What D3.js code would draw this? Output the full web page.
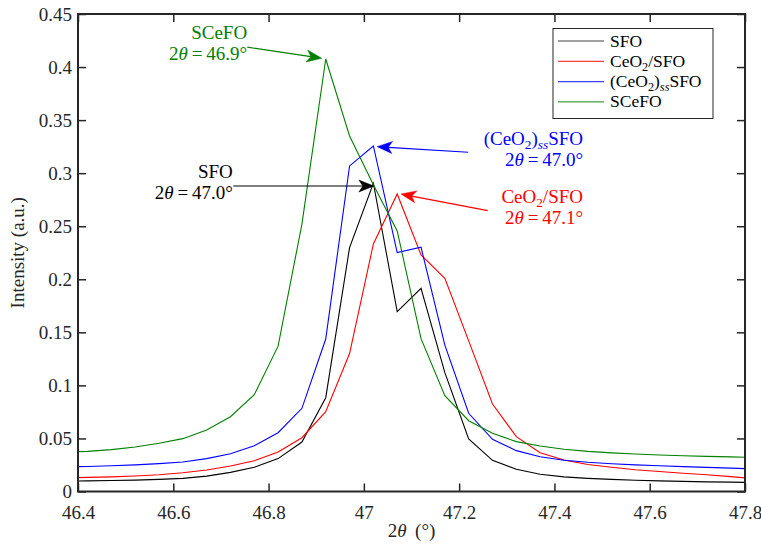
<!DOCTYPE html>
<html><head><meta charset="utf-8">
<script src="https://cdn.jsdelivr.net/npm/d3@7"></script>
<style>body{margin:0;background:#fff}svg{display:block}text{font-family:"Liberation Serif","Times New Roman","DejaVu Serif",serif}</style>
</head><body><svg id="c" width="761" height="552"></svg>
<script>
const theta = [46.37,46.42,46.47,46.52,46.57,46.62,46.67,46.72,46.77,46.82,46.87,46.92,46.97,47.02,47.07,47.12,47.17,47.22,47.27,47.32,47.37,47.42,47.47,47.52,47.57,47.62,47.67,47.72,47.77,47.82];
const sfo   = [0.0097,0.0100,0.0103,0.0107,0.0114,0.0124,0.0145,0.0180,0.0228,0.0310,0.0466,0.0884,0.2298,0.2905,0.1695,0.1915,0.1120,0.0495,0.0294,0.0209,0.0162,0.0138,0.0124,0.0114,0.0106,0.0100,0.0095,0.0091,0.0088,0.0085];
const ceo2  = [0.0128,0.0133,0.0138,0.0146,0.0158,0.0177,0.0203,0.0240,0.0290,0.0372,0.0507,0.0752,0.1300,0.2333,0.2804,0.2229,0.2009,0.1420,0.0825,0.0517,0.0366,0.0297,0.0255,0.0228,0.0205,0.0188,0.0172,0.0158,0.0140,0.0120];
const ceoss = [0.0232,0.0236,0.0242,0.0251,0.0263,0.0278,0.0310,0.0356,0.0432,0.0554,0.0784,0.1437,0.3068,0.3256,0.2251,0.2302,0.1380,0.0737,0.0492,0.0385,0.0328,0.0294,0.0275,0.0262,0.0251,0.0242,0.0234,0.0227,0.0220,0.0213];
const scefo = [0.0368,0.0378,0.0395,0.0420,0.0454,0.0498,0.0580,0.0705,0.0912,0.1370,0.2520,0.4076,0.3350,0.2890,0.2455,0.1440,0.0903,0.0667,0.0548,0.0470,0.0429,0.0398,0.0378,0.0364,0.0353,0.0344,0.0337,0.0331,0.0326,0.0321];
const xTicks = [46.4,46.6,46.8,47,47.2,47.4,47.6,47.8];
const yTicks = [0,0.05,0.1,0.15,0.2,0.25,0.3,0.35,0.4,0.45];
const seriesNames = ["SFO","CeO2/SFO","(CeO2)ssSFO","SCeFO"];
const seriesColors = ["#000000","#ff0000","#0000ff","#008000"];
const seriesData = [sfo, ceo2, ceoss, scefo];
// annotations in data units
const annLabels = ["SFO","CeO2/SFO","(CeO2)ssSFO","SCeFO"];
const annAngles = ["47.0","47.1","47.0","46.9"];
const annText = [[46.725,0.2955],[47.46,0.2716],[47.46,0.3266],[46.755,0.4265]];
const annTail = [[46.726,0.2879],[47.260,0.2647],[47.219,0.3197],[46.7554,0.4187]];
const annTip  = [[47.021,0.2879],[47.078,0.2804],[47.028,0.3250],[46.9116,0.4083]];

const svg = d3.select("#c");
const L=78,R=745,T=14,B=491.5;
const x = d3.scaleLinear().domain([46.4,47.8]).range([L,R]);
const y = d3.scaleLinear().domain([0,0.45]).range([B,T]);
const axisCol="#262626";
const FF="'Liberation Serif','Times New Roman','DejaVu Serif',serif";
const FS=19;

svg.append("clipPath").attr("id","clip").append("rect").attr("x",L).attr("y",T).attr("width",R-L).attr("height",B-T);

const line = d3.line().x((d,i)=>x(theta[i])).y(d=>y(d));
seriesData.forEach((s,k)=>{
  svg.append("path").attr("d",line(s)).attr("fill","none").attr("stroke",seriesColors[k]).attr("stroke-width",1.1).attr("clip-path","url(#clip)");
});

const gx = svg.append("g").attr("transform",`translate(0,${B})`).call(d3.axisBottom(x).tickValues(xTicks).tickSize(-8).tickPadding(14).tickFormat(d3.format("")));
const gxt = svg.append("g").attr("transform",`translate(0,${T})`).call(d3.axisTop(x).tickValues(xTicks).tickSize(-8).tickFormat(""));
const gy = svg.append("g").attr("transform",`translate(${L},0)`).call(d3.axisLeft(y).tickValues(yTicks).tickSize(-8).tickPadding(6).tickFormat(d=>String(d)));
const gyr = svg.append("g").attr("transform",`translate(${R},0)`).call(d3.axisRight(y).tickValues(yTicks).tickSize(-8).tickFormat(""));
[gx,gxt,gy,gyr].forEach(g=>{
  g.attr("font-family",FF);
  g.select(".domain").remove();
  g.selectAll(".tick line").attr("stroke",axisCol).attr("stroke-width",1.5);
  g.selectAll(".tick text").attr("fill",axisCol).style("font-size",FS+"px").style("font-family",FF);
});
svg.append("rect").attr("x",L).attr("y",T).attr("width",R-L).attr("height",B-T).attr("fill","none").attr("stroke",axisCol).attr("stroke-width",2);

const xl = svg.append("text").attr("x",(L+R)/2).attr("y",537).attr("text-anchor","middle").attr("fill",axisCol).style("font-size",FS+"px");
xl.append("tspan").text("2");
xl.append("tspan").attr("font-style","italic").text("θ");
xl.append("tspan").text("\u2009 (°)");
svg.append("text").attr("transform",`translate(24,${(T+B)/2}) rotate(-90)`).attr("text-anchor","middle").attr("fill",axisCol).style("font-size",FS+"px").text("Intensity (a.u.)");

function richName(sel,name,size){
  if(name==="CeO2/SFO"){
    sel.append("tspan").text("CeO");
    sel.append("tspan").attr("dy",4).style("font-size",(size*0.7)+"px").text("2");
    sel.append("tspan").attr("dy",-4).text("/SFO");
  } else if(name==="(CeO2)ssSFO"){
    sel.append("tspan").text("(CeO");
    sel.append("tspan").attr("dy",4).style("font-size",(size*0.7)+"px").text("2");
    sel.append("tspan").attr("dy",-4).text(")");
    sel.append("tspan").attr("dy",4).style("font-size",(size*0.7)+"px").attr("font-style","italic").text("ss");
    sel.append("tspan").attr("dy",-4).text("SFO");
  } else sel.text(name);
}

annLabels.forEach((nm,k)=>{
  const c=seriesColors[k];
  const t1 = svg.append("text").attr("x",x(annText[k][0])).attr("y",y(annText[k][1])).attr("text-anchor","end").attr("fill",c).style("font-size",FS+"px");
  richName(t1,nm,FS);
  const t2 = svg.append("text").attr("x",x(annText[k][0])).attr("y",y(annText[k][1])+21).attr("text-anchor","end").attr("fill",c).style("font-size",FS+"px");
  t2.append("tspan").text("2");
  t2.append("tspan").attr("font-style","italic").text("θ");
  t2.append("tspan").text("\u2009=\u2009"+annAngles[k]+"°");
  const x1=x(annTail[k][0]),y1=y(annTail[k][1]),x2=x(annTip[k][0]),y2=y(annTip[k][1]);
  const a=Math.atan2(y2-y1,x2-x1), len=15, hw=6, back=11;
  const ux=Math.cos(a),uy=Math.sin(a),px=-uy,py=ux;
  svg.append("line").attr("x1",x1).attr("y1",y1).attr("x2",x2-ux*back).attr("y2",y2-uy*back).attr("stroke",c).attr("stroke-width",1.2);
  const pts=[[x2,y2],[x2-ux*len+px*hw,y2-uy*len+py*hw],[x2-ux*back,y2-uy*back],[x2-ux*len-px*hw,y2-uy*len-py*hw]];
  svg.append("path").attr("d","M"+pts.map(p=>p.join(",")).join("L")+"Z").attr("fill",c).attr("stroke",c).attr("stroke-width",0.5);
});

const lg = svg.append("g");
lg.append("rect").attr("x",553).attr("y",28.5).attr("width",160).attr("height",90).attr("fill","#fff").attr("stroke",axisCol).attr("stroke-width",1);
seriesNames.forEach((nm,k)=>{
  const cy=41+k*20.3;
  lg.append("line").attr("x1",558).attr("x2",604).attr("y1",cy).attr("y2",cy).attr("stroke",seriesColors[k]).attr("stroke-width",1.2).attr("stroke-opacity",0.75);
  const t=lg.append("text").attr("x",610).attr("y",cy+5.5).attr("fill","#000").style("font-size","17.5px");
  richName(t,nm,17.5);
});
</script></body></html>
